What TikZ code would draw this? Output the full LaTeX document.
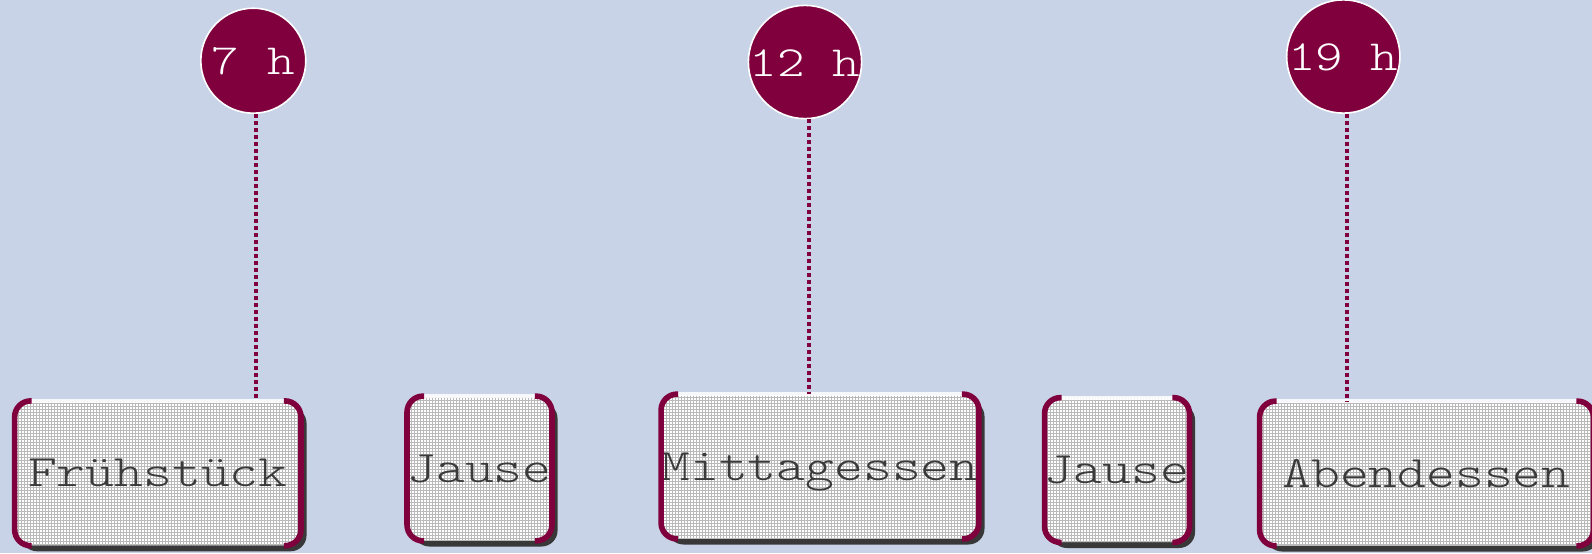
\documentclass[tikz,border=0pt]{standalone}
\usepackage{fontspec}
\setmonofont{lmmonolt10-regular.otf}[FakeStretch=1.22]
\usetikzlibrary{patterns,shadows}

\definecolor{bgblue}{RGB}{200,211,231}
\definecolor{wine}{RGB}{128,0,62}
\definecolor{shadowc}{RGB}{56,56,56}
\definecolor{textc}{RGB}{58,58,58}

% fine square grid used as the fill of the meal boxes
\pgfdeclarepatternformonly{finegrid}{\pgfqpoint{-0.5pt}{-0.5pt}}{\pgfqpoint{2pt}{2pt}}{\pgfqpoint{1.5pt}{1.5pt}}{%
  \pgfsetlinewidth{0.4pt}%
  \pgfpathmoveto{\pgfqpoint{0pt}{0pt}}\pgfpathlineto{\pgfqpoint{1.6pt}{0pt}}%
  \pgfpathmoveto{\pgfqpoint{0pt}{0pt}}\pgfpathlineto{\pgfqpoint{0pt}{1.6pt}}%
  \pgfusepath{stroke}}

\tikzset{
  meal/.style={rectangle, rounded corners=8pt, minimum height=72pt, inner sep=0pt,
    general shadow={fill=shadowc, shadow xshift=3pt, shadow yshift=-3pt},
    preaction={fill=white}, pattern=finegrid, pattern color=gray!55,
    font=\ttfamily\fontsize{22.5}{22.5}\selectfont, text=textc,
    text height=13.5pt, text depth=0pt},
  hour/.style={circle, fill=wine, draw=white, line width=0.8pt, minimum size=52.5pt,
    inner sep=0pt, font=\ttfamily\fontsize{21.5}{21.5}\selectfont, text=white,
    text height=14pt, text depth=0pt},
  sideline/.style={draw=wine, line width=2.8pt, rounded corners=8pt},
  topline/.style={draw=white, opacity=0.85, line width=2pt},
  dotline/.style={draw=wine, line width=2pt, dash pattern=on 2pt off 1.5pt}
}

% maroon left/right edges and light top edge of a meal box
\newcommand\mealsides[1]{%
  \draw[topline] ([xshift=8pt]#1.north west) -- ([xshift=-8pt]#1.north east);
  \draw[sideline] ([xshift=8.5pt]#1.north west) -- (#1.north west) -- (#1.south west) -- ([xshift=8.5pt]#1.south west);
  \draw[sideline] ([xshift=-8.5pt]#1.north east) -- (#1.north east) -- (#1.south east) -- ([xshift=-8.5pt]#1.south east);
}

\begin{document}
\begin{tikzpicture}[x=0.5pt,y=-0.5pt]
  \fill[bgblue] (0,0) rectangle (1592,553);
  \useasboundingbox (0,0) rectangle (1592,553);

  % meals
  \node[meal, minimum width=142.75pt] (fr) at (157.8,473.3) {Frühstück};
  \node[meal, minimum width=71pt]     (j1) at (479.5,468.5) {Jause};
  \node[meal, minimum width=158.5pt]  (mi) at (820,466.5)   {Mittagessen};
  \node[meal, minimum width=70.75pt]  (j2) at (1117,470)    {Jause};
  \node[meal, minimum width=166.5pt]  (ab) at (1426.5,473.5){Abendessen};
  \mealsides{fr}
  \mealsides{j1}
  \mealsides{mi}
  \mealsides{j2}
  \mealsides{ab}

  % times of day
  \node[hour] (t7)  at (253.3,60.7) {7 h};
  \node[hour] (t12) at (805,62)     {12 h};
  \node[hour] (t19) at (1343.3,56.5){19 h};

  % links from each time to its meal
  \draw[dotline] ([xshift=1.5pt]t7.south)  -- ([xshift=1.5pt]t7.south |- fr.north);
  \draw[dotline] ([xshift=2pt]t12.south)   -- ([xshift=2pt]t12.south |- mi.north);
  \draw[dotline] ([xshift=1.6pt]t19.south) -- ([xshift=1.6pt]t19.south |- ab.north);
\end{tikzpicture}
\end{document}
